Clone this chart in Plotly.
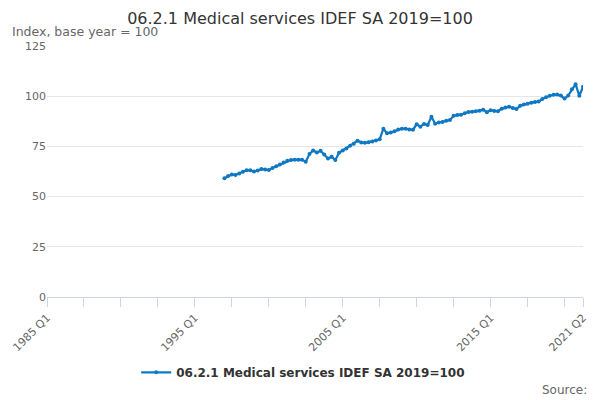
import plotly.graph_objects as go

# quarterly categories, 1985 Q1 to 2021 Q2
quarters = []
for yr in range(1985, 2022):
    for q in range(1, 5):
        quarters.append(f"{yr} Q{q}")
quarters = quarters[:quarters.index("2021 Q2") + 1]

first_period = "1997 Q1"

# index values, 1997 Q1 onwards
values = [
    59.1, 60.2, 61.0, 60.8, 61.5, 62.4, 63.1, 63.1, 62.5, 63.0,
    63.7, 63.5, 63.2, 64.3, 65.1, 66.0, 67.0, 67.8, 68.2, 68.4,
    68.4, 68.3, 67.4, 71.2, 73.0, 72.0, 72.8, 71.0, 69.0, 69.8,
    68.2, 71.8, 73.0, 74.0, 75.3, 76.3, 77.8, 77.0, 76.8, 77.1,
    77.5, 78.0, 78.5, 83.8, 81.5, 81.9, 82.6, 83.4, 83.8, 83.8,
    83.4, 83.3, 86.0, 84.8, 86.2, 85.7, 89.8, 86.3, 86.9, 87.2,
    87.8, 88.1, 90.3, 90.6, 90.8, 91.5, 92.1, 92.3, 92.5, 92.8,
    93.3, 92.0, 93.0, 92.6, 92.5, 93.7, 94.4, 94.8, 94.1, 93.6,
    95.2, 95.9, 96.3, 96.8, 97.1, 97.3, 98.6, 99.5, 100.2, 100.7,
    100.8, 100.3, 98.8, 100.3, 103.5, 106.0, 100.2, 104.7,
]

start = quarters.index(first_period)
x_vals = quarters[start:start + len(values)]

tick_every = 10
label_every = 40
tick_vals = quarters[::tick_every] + [quarters[-1]]
tick_text = [q if i % label_every == 0 else "" for i, q in enumerate(quarters)][::tick_every] + [quarters[-1]]

blue = "#0f78c3"
grey = "#666666"

fig = go.Figure(data=[go.Scatter(
    x=x_vals, y=values, mode="lines+markers",
    name="06.2.1 Medical services IDEF SA 2019=100",
    line=dict(color=blue, width=2.2),
    marker=dict(color=blue, size=4),
)])

fig.update_layout(
    width=600, height=400,
    margin=dict(l=47, r=17, t=46, b=103),
    paper_bgcolor="white", plot_bgcolor="white",
    font=dict(family="DejaVu Sans", color=grey, size=11),
    title=dict(text="06.2.1 Medical services IDEF SA 2019=100",
               x=0.5, xref="container", y=0.955, yanchor="middle",
               font=dict(size=16, color="#333333")),
    showlegend=True,
    legend=dict(orientation="h", x=0.478, xanchor="center", y=-0.30, yanchor="middle",
                font=dict(size=12, color="#333333", weight="bold")),
    xaxis=dict(type="category", categoryorder="array", categoryarray=quarters,
               range=[0, len(quarters) - 1], automargin=False,
               tickmode="array", tickvals=tick_vals, ticktext=tick_text,
               tickangle=-45, ticks="outside", ticklen=9, tickcolor="#ccd6eb",
               showline=True, linecolor="#ccd6eb", showgrid=False,
               tickfont=dict(size=11, color=grey)),
    yaxis=dict(range=[0, 125], tickvals=[0, 25, 50, 75, 100, 125], automargin=False,
               gridcolor="#e6e6e6", zeroline=False, showline=False,
               ticks="", tickfont=dict(size=11, color=grey)),
    annotations=[
        dict(text="Index, base year = 100", xref="paper", yref="paper",
             x=-0.069, y=1.056, xanchor="left", yanchor="middle",
             showarrow=False, font=dict(size=12.5, color=grey)),
        dict(text="Source:", xref="paper", yref="paper",
             x=1.011, y=-0.37, xanchor="right", yanchor="middle",
             showarrow=False, font=dict(size=12, color=grey)),
    ],
)

fig.write_html("out.html", config={"displayModeBar": False},
               post_script="document.body.style.margin='0';")
